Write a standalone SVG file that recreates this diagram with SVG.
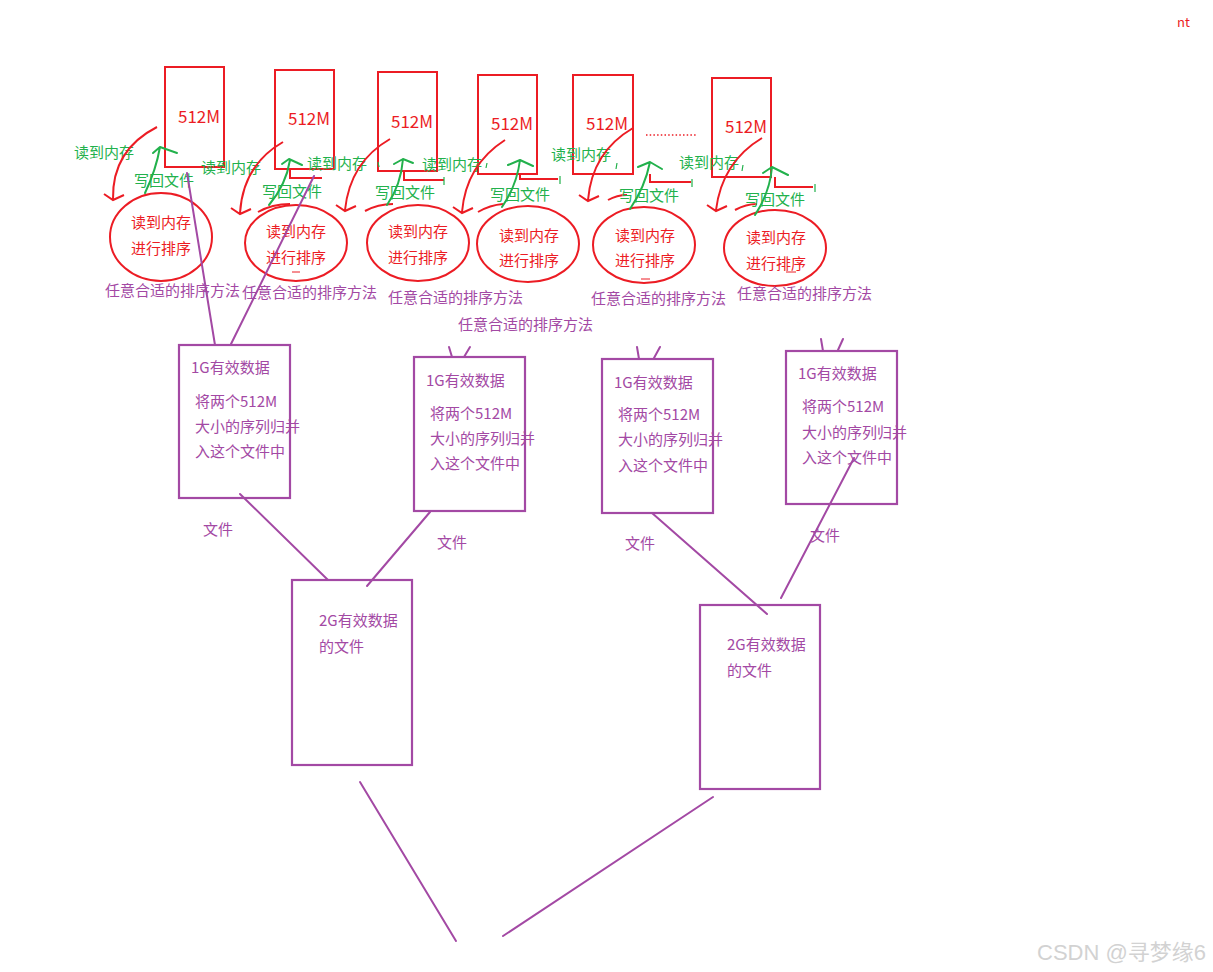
<svg xmlns="http://www.w3.org/2000/svg" width="1213" height="972" viewBox="0 0 1213 972">
<style>
text{font-family:"Noto Sans CJK SC","Microsoft YaHei","Liberation Sans",sans-serif;}
.r{fill:#ec1c24;font-size:15px;}
.rm{fill:#ec1c24;font-size:17px;}
.g{fill:#22b14c;font-size:15px;}
.p{fill:#a349a4;font-size:15px;}
.rs{fill:none;stroke:#ec1c24;stroke-width:2;}
.gs{fill:none;stroke:#22b14c;stroke-width:2;stroke-linecap:round;stroke-linejoin:round;}
.ps{fill:none;stroke:#a349a4;stroke-width:2.2;}
.pl{fill:none;stroke:#a349a4;stroke-width:2;stroke-linecap:round;}
.wm{fill:#d2d2d2;font-family:"Liberation Sans","Noto Sans CJK SC",sans-serif;font-size:22px;}
</style>
<rect width="1213" height="972" fill="#fff"/>
<text x="1177" y="27" class="r" style="font-size:13px">nt</text>

<!-- 512M blocks -->
<g id="blk1"><rect x="165" y="67" width="59" height="100" class="rs"/><text x="178" y="123" class="rm">512M</text></g>
<g id="blk2"><rect x="275" y="70" width="59" height="99" class="rs"/><polyline points="290,169 290,178 322,178" class="rs"/><text x="288" y="125" class="rm">512M</text></g>
<g id="blk3"><rect x="378" y="72" width="59" height="99" class="rs"/><polyline points="404,171 404,180 444,180" class="rs"/><text x="391" y="128" class="rm">512M</text></g>
<g id="blk4"><rect x="478" y="75" width="59" height="99" class="rs"/><polyline points="520,174 520,179 558,179" class="rs"/><text x="491" y="130" class="rm">512M</text></g>
<g id="blk5"><rect x="573" y="75" width="60" height="99" class="rs"/><polyline points="650,174 650,182 691,182" class="rs"/><text x="586" y="130" class="rm">512M</text></g>
<g id="blk6"><rect x="712" y="78" width="59" height="99" class="rs"/><polyline points="775,177 775,187 813,187" class="rs"/><text x="725" y="133" class="rm">512M</text></g>
<line x1="646" y1="135" x2="697" y2="135" stroke="#ec1c24" stroke-width="1.5" stroke-dasharray="1.5 2.2"/>

<!-- sort ellipses -->
<g id="sort1"><ellipse cx="161" cy="237" rx="51" ry="44" class="rs"/><text x="131" y="228" class="r">读到内存</text><text x="131" y="254" class="r">进行排序</text></g>
<g id="sort2"><ellipse cx="296" cy="243" rx="51" ry="38" class="rs"/><path d="M258,212 Q272,204 290,204" class="rs"/><text x="266" y="237" class="r">读到内存</text><text x="266" y="263" class="r">进行排序</text><line x1="292" y1="272" x2="300" y2="272" stroke="#ec1c24" stroke-width="1"/></g>
<g id="sort3"><ellipse cx="418" cy="243" rx="51" ry="38" class="rs"/><path d="M365,211 Q378,204 393,204" class="rs"/><text x="388" y="237" class="r">读到内存</text><text x="388" y="263" class="r">进行排序</text></g>
<g id="sort4"><ellipse cx="528" cy="244" rx="51" ry="38" class="rs"/><path d="M478,212 Q490,205 503,204" class="rs"/><text x="499" y="241" class="r">读到内存</text><text x="499" y="266" class="r">进行排序</text></g>
<g id="sort5"><ellipse cx="644" cy="245" rx="51" ry="38" class="rs"/><path d="M608,200 Q617,195 627,195" class="rs"/><text x="615" y="241" class="r">读到内存</text><text x="615" y="266" class="r">进行排序</text><line x1="641" y1="279" x2="650" y2="279" stroke="#ec1c24" stroke-width="1"/></g>
<g id="sort6"><ellipse cx="775" cy="248" rx="51" ry="38" class="rs"/><path d="M735,210 Q746,204 757,204" class="rs"/><text x="746" y="243" class="r">读到内存</text><text x="746" y="269" class="r">进行排序</text><line x1="786" y1="272" x2="796" y2="272" stroke="#ec1c24" stroke-width="1"/></g>

<!-- 1G boxes -->
<g id="g1"><rect x="179" y="345" width="111" height="153" class="ps"/><text x="191" y="373" class="p">1G有效数据</text><text x="195" y="407" class="p">将两个512M</text><text x="195" y="432" class="p">大小的序列归并</text><text x="195" y="457" class="p">入这个文件中</text></g>
<g id="g2"><rect x="414" y="357" width="111" height="154" class="ps"/><text x="426" y="386" class="p">1G有效数据</text><text x="430" y="419" class="p">将两个512M</text><text x="430" y="444" class="p">大小的序列归并</text><text x="430" y="469" class="p">入这个文件中</text></g>
<g id="g3"><rect x="602" y="359" width="111" height="154" class="ps"/><text x="614" y="388" class="p">1G有效数据</text><text x="618" y="420" class="p">将两个512M</text><text x="618" y="445" class="p">大小的序列归并</text><text x="618" y="471" class="p">入这个文件中</text></g>
<g id="g4"><rect x="786" y="351" width="111" height="153" class="ps"/><text x="798" y="379" class="p">1G有效数据</text><text x="802" y="412" class="p">将两个512M</text><text x="802" y="438" class="p">大小的序列归并</text><text x="802" y="463" class="p">入这个文件中</text></g>

<!-- 2G boxes -->
<g id="h1"><rect x="292" y="580" width="120" height="185" class="ps"/><text x="319" y="626" class="p">2G有效数据</text><text x="319" y="652" class="p">的文件</text></g>
<g id="h2"><rect x="700" y="605" width="120" height="184" class="ps"/><text x="727" y="650" class="p">2G有效数据</text><text x="727" y="676" class="p">的文件</text></g>

<!-- labels -->
<g id="labels">
<text x="74" y="158" class="g">读到内存</text>
<text x="134" y="186" class="g">写回文件</text>
<text x="201" y="173" class="g">读到内存</text>
<text x="262" y="197" class="g">写回文件</text>
<text x="307" y="169" class="g">读到内存</text>
<text x="375" y="198" class="g">写回文件</text>
<text x="422" y="170" class="g">读到内存</text>
<text x="490" y="200" class="g">写回文件</text>
<text x="551" y="160" class="g">读到内存</text>
<text x="619" y="201" class="g">写回文件</text>
<text x="679" y="168" class="g">读到内存</text>
<text x="745" y="205" class="g">写回文件</text>
<text x="105" y="296" class="p">任意合适的排序方法</text>
<text x="242" y="298" class="p">任意合适的排序方法</text>
<text x="388" y="303" class="p">任意合适的排序方法</text>
<text x="458" y="330" class="p">任意合适的排序方法</text>
<text x="591" y="304" class="p">任意合适的排序方法</text>
<text x="737" y="299" class="p">任意合适的排序方法</text>
<text x="203" y="535" class="p">文件</text>
<text x="437" y="548" class="p">文件</text>
<text x="625" y="549" class="p">文件</text>
<text x="810" y="541" class="p">文件</text>
</g>

<!-- connectors -->
<g id="connectors">
<!-- red read arrows -->
<path d="M157,127 Q112,150 113,199 M104,194 L113,200 L124,195" class="rs"/>
<path d="M283,142 Q243,165 240,213 M231,208 L240,214 L251,209" class="rs"/>
<path d="M390,139 Q350,162 345,210 M336,205 L345,211 L356,206" class="rs"/>
<path d="M505,140 Q466,165 462,212 M453,207 L462,213 L473,208" class="rs"/>
<path d="M633,128 Q592,152 588,200 M579,195 L588,201 L599,196" class="rs"/>
<path d="M762,138 Q722,162 716,210 M707,205 L716,211 L727,206" class="rs"/>
<!-- green write arrows -->
<path d="M145,193 Q156,170 160,147 M153,153 L160,147 L177,153" class="gs"/>
<path d="M269,205 Q286,185 290,160 M282,164 L289,159 L302,165" class="gs"/>
<path d="M387,205 Q401,185 403,159 M394,164 L403,159 L413,163" class="gs"/>
<path d="M502,207 Q517,185 520,160 M508,165 L520,160 L533,166" class="gs"/>
<path d="M630,209 Q645,187 650,162 M638,167 L650,162 L662,169" class="gs"/>
<path d="M755,215 Q770,192 772,167 M763,173 L772,167 L788,175" class="gs"/>
<!-- small green fragments -->
<path d="M378,162 L379,167 M487,163 L486,168 M617,163 L616,169 M743,165 L742,171 M444,177 L444,185 M560,176 L560,184 M692,179 L692,187 M815,184 L815,192" stroke="#22b14c" stroke-width="1.2" fill="none"/>
<!-- purple lines -->
<line x1="187" y1="173" x2="215" y2="345" class="pl"/>
<line x1="314" y1="176" x2="231" y2="344" class="pl"/>
<line x1="449" y1="347" x2="452" y2="357" class="pl"/>
<line x1="470" y1="347" x2="464" y2="357" class="pl"/>
<line x1="637" y1="347" x2="639" y2="359" class="pl"/>
<line x1="660" y1="347" x2="654" y2="358" class="pl"/>
<line x1="821" y1="339" x2="823" y2="351" class="pl"/>
<line x1="843" y1="339" x2="838" y2="350" class="pl"/>
<line x1="240" y1="494" x2="328" y2="580" class="pl"/>
<line x1="430" y1="512" x2="367" y2="586" class="pl"/>
<line x1="652" y1="513" x2="767" y2="614" class="pl"/>
<line x1="854" y1="458" x2="781" y2="598" class="pl"/>
<line x1="360" y1="782" x2="456" y2="941" class="pl"/>
<line x1="713" y1="797" x2="503" y2="936" class="pl"/>
</g>

<text x="1037" y="960" class="wm">CSDN @寻梦缘6</text>
</svg>
